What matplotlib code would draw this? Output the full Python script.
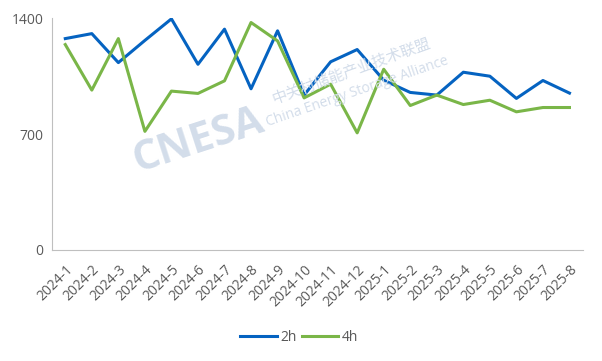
import matplotlib.pyplot as plt

plt.rcParams['font.family'] = ['Open Sans', 'Noto Sans CJK SC', 'DejaVu Sans']

# monthly values
months = ['2024-1', '2024-2', '2024-3', '2024-4', '2024-5', '2024-6', '2024-7',
          '2024-8', '2024-9', '2024-10', '2024-11', '2024-12', '2025-1', '2025-2',
          '2025-3', '2025-4', '2025-5', '2025-6', '2025-7', '2025-8']
h2 = [1276, 1306, 1131, 1265, 1395, 1121, 1333, 973, 1323, 935,
      1136, 1210, 1025, 951, 935, 1073, 1049, 915, 1023, 947]
h4 = [1240, 965, 1276, 716, 959, 945, 1021, 1373, 1262, 918,
      1001, 707, 1091, 872, 935, 878, 904, 834, 860, 860]

fig = plt.figure(figsize=(6.02, 3.61), dpi=100)
ax = fig.add_axes([0.0864, 0.3075, 0.8816, 0.6425])

x = range(len(months))
ax.plot(x, h2, color='#0563C1', lw=2.2, label='2h')
ax.plot(x, h4, color='#7AB648', lw=2.2, label='4h')

ax.set_xlim(-0.5, len(months) - 0.5)
ax.set_ylim(0, 1400)
ax.set_yticks([0, 700, 1400])
ax.set_xticks(list(x))
ax.set_xticklabels(months, rotation=45, ha='right', rotation_mode='anchor')
ax.tick_params(axis='x', length=0, labelsize=10, colors='#595959', pad=9)
ax.tick_params(axis='y', length=0, labelsize=10, colors='#595959', pad=6)

for s in ['top', 'right']:
    ax.spines[s].set_visible(False)
ax.spines['left'].set_color('#BFBFBF')
ax.spines['bottom'].set_color('#BFBFBF')

# watermark
wm = '#D3DDEA'
fig.text(0.33, 0.61, 'CNESA', fontsize=30, fontweight='bold', color=wm,
         rotation=18, ha='center', va='center', zorder=0)
fig.text(0.585, 0.80, '中关村储能产业技术联盟', fontsize=11, color=wm,
         rotation=20, ha='center', va='center', zorder=0)
fig.text(0.593, 0.745, 'China Energy Storage Alliance', fontsize=10, color=wm,
         rotation=19, ha='center', va='center', zorder=0)

fig.legend(loc='center', bbox_to_anchor=(0.4975, 0.066), ncol=2, frameon=False,
           fontsize=10, handlelength=2.6, columnspacing=0.35, handletextpad=0.3,
           labelcolor='#595959')

fig.savefig('out.png', dpi=100)
plt.close()
